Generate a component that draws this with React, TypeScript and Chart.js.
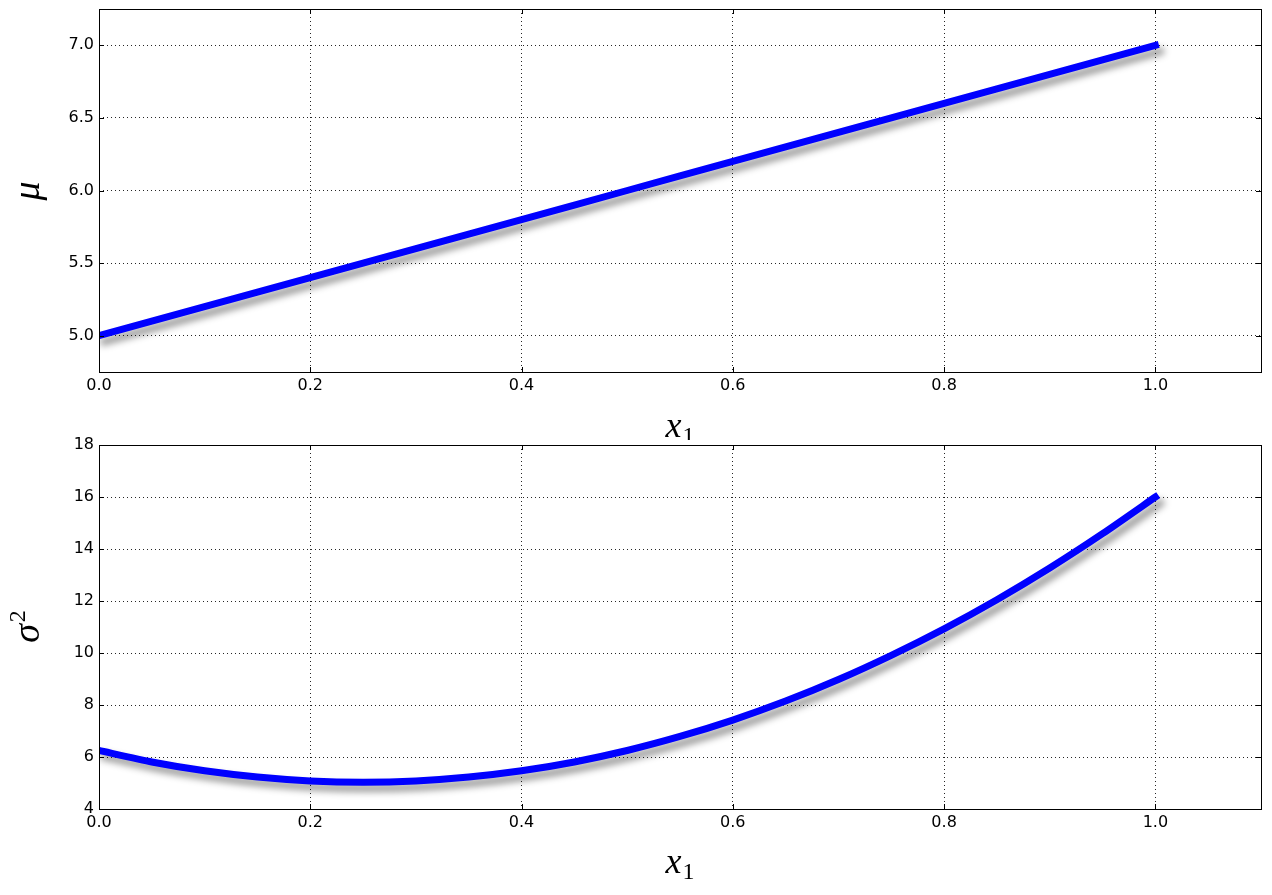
import React, { useEffect, useRef } from "react";
import { Chart, registerables } from "chart.js";

Chart.register(...registerables);

// ---- data ----
const muX = [0, 0.1, 0.2, 0.3, 0.4, 0.5, 0.6, 0.7, 0.8, 0.9, 1.0];
const muY = [5.0, 5.2, 5.4, 5.6, 5.8, 6.0, 6.2, 6.4, 6.6, 6.8, 7.0];

const sigmaX = [0, 0.05, 0.1, 0.15, 0.2, 0.25, 0.3, 0.35, 0.4, 0.45, 0.5, 0.55, 0.6, 0.65, 0.7, 0.75, 0.8, 0.85, 0.9, 0.95, 1.0];
const sigmaY = [6.25, 5.81, 5.47, 5.23, 5.08, 5.03, 5.08, 5.23, 5.47, 5.81, 6.25, 6.79, 7.42, 8.15, 8.98, 9.91, 10.93, 12.05, 13.27, 14.59, 16.0];

const xTicks = [0, 0.2, 0.4, 0.6, 0.8, 1.0];
const muTicks = [5.0, 5.5, 6.0, 6.5, 7.0];
const sigmaTicks = [4, 6, 8, 10, 12, 14, 16, 18];

const W = 1272;
const TOP_H = 440;
const BOT_TOP = 437;
const BOT_H = 895 - BOT_TOP;

function decorPlugin(yMain: string, ySup: string | null, titleOffset: number) {
  return {
    id: "decor",
    beforeDatasetsDraw(chart: any) {
      const ctx = chart.ctx;
      ctx.save();
      ctx.shadowColor = "rgba(0,0,0,0.42)";
      ctx.shadowOffsetX = 5;
      ctx.shadowOffsetY = 6;
      ctx.shadowBlur = 7;
    },
    afterDatasetsDraw(chart: any) {
      const ctx = chart.ctx;
      ctx.restore();
    },
    afterDraw(chart: any) {
      const ctx = chart.ctx;
      const { left, right, top, bottom } = chart.chartArea;
      const xs = chart.scales.x;
      const ys = chart.scales.y;
      ctx.save();
      ctx.strokeStyle = "#000";
      ctx.lineWidth = 1;
      ctx.beginPath();
      const tl = 5;
      ys.ticks.forEach((t: any) => {
        const py = Math.round(ys.getPixelForValue(t.value)) + 0.5;
        ctx.moveTo(left, py);
        ctx.lineTo(left + tl, py);
        ctx.moveTo(right, py);
        ctx.lineTo(right - tl, py);
      });
      xs.ticks.forEach((t: any) => {
        const px = Math.round(xs.getPixelForValue(t.value)) + 0.5;
        ctx.moveTo(px, bottom);
        ctx.lineTo(px, bottom - tl);
        ctx.moveTo(px, top);
        ctx.lineTo(px, top + tl);
      });
      ctx.stroke();
      ctx.strokeRect(Math.round(left) + 0.5, Math.round(top) + 0.5, Math.round(right - left), Math.round(bottom - top));

      // x axis title: x_1
      ctx.fillStyle = "#000";
      ctx.textBaseline = "alphabetic";
      const mainFont = "italic 36px 'Liberation Serif'";
      const subFont = "24px 'Liberation Serif'";
      ctx.font = mainFont;
      const wx = ctx.measureText("x").width;
      ctx.font = subFont;
      const w1 = ctx.measureText("1").width;
      const cx = (left + right) / 2;
      const startX = cx - (wx + w1 + 1) / 2;
      const baseY = bottom + titleOffset;
      ctx.font = mainFont;
      ctx.textAlign = "left";
      ctx.fillText("x", startX, baseY);
      ctx.font = subFont;
      ctx.fillText("1", startX + wx + 1, baseY + 6);

      // y axis title
      const cy = (top + bottom) / 2;
      ctx.save();
      ctx.translate(39, cy);
      ctx.rotate(-Math.PI / 2);
      ctx.font = "italic 38px 'Liberation Serif'";
      const wm = ctx.measureText(yMain).width;
      let ws = 0;
      if (ySup) {
        ctx.font = "24px 'Liberation Serif'";
        ws = ctx.measureText(ySup).width;
      }
      const sx = -(wm + ws + 1) / 2;
      ctx.font = "italic 38px 'Liberation Serif'";
      ctx.fillText(yMain, sx, 0);
      if (ySup) {
        ctx.font = "24px 'Liberation Serif'";
        ctx.fillText(ySup, sx + wm + 2, -14);
      }
      ctx.restore();
      ctx.restore();
    },
  };
}

function makeConfig(
  xData: number[],
  yData: number[],
  yMin: number,
  yMax: number,
  yTicks: number[],
  yFmt: (v: number) => string,
  xAxisHeight: number,
  padTop: number,
  yMain: string,
  ySup: string | null,
  titleOffset: number
): any {
  return {
    type: "line",
    data: {
      datasets: [
        {
          data: xData.map((x, i) => ({ x, y: yData[i] })),
          borderColor: "#0000ff",
          borderWidth: 7,
          borderCapStyle: "square",
          pointRadius: 0,
          tension: 0.2,
          fill: false,
        },
      ],
    },
    options: {
      responsive: false,
      animation: false,
      devicePixelRatio: 1,
      layout: { padding: { top: padTop, right: 11, left: 0, bottom: 0 } },
      plugins: { legend: { display: false }, tooltip: { enabled: false } },
      scales: {
        x: {
          type: "linear",
          min: 0,
          max: 1.1,
          afterBuildTicks: (s: any) => {
            s.ticks = xTicks.map((v) => ({ value: v }));
          },
          afterFit: (s: any) => {
            s.height = xAxisHeight;
          },
          ticks: {
            color: "#000",
            font: { family: "'DejaVu Sans'", size: 16 },
            padding: 4,
            maxRotation: 0,
            autoSkip: false,
            callback: (v: number) => v.toFixed(1),
          },
          grid: { color: "rgba(0,0,0,0.85)", lineWidth: 1, drawTicks: false },
          border: { display: false, dash: [1, 3] },
        },
        y: {
          type: "linear",
          min: yMin,
          max: yMax,
          afterBuildTicks: (s: any) => {
            s.ticks = yTicks.map((v) => ({ value: v }));
          },
          afterFit: (s: any) => {
            s.width = 99;
            s.paddingTop = 0;
            s.paddingBottom = 0;
          },
          ticks: {
            color: "#000",
            font: { family: "'DejaVu Sans'", size: 16 },
            padding: 5,
            autoSkip: false,
            callback: (v: number) => yFmt(v),
          },
          grid: { color: "rgba(0,0,0,0.85)", lineWidth: 1, drawTicks: false },
          border: { display: false, dash: [1, 3] },
        },
      },
    },
    plugins: [decorPlugin(yMain, ySup, titleOffset)],
  };
}

export default function App() {
  const topRef = useRef<HTMLCanvasElement | null>(null);
  const botRef = useRef<HTMLCanvasElement | null>(null);

  useEffect(() => {
    const c1 = new Chart(
      topRef.current as HTMLCanvasElement,
      makeConfig(muX, muY, 4.75, 7.25, muTicks, (v) => v.toFixed(1), TOP_H - 372, 9, "μ", null, 65)
    );
    const c2 = new Chart(
      botRef.current as HTMLCanvasElement,
      makeConfig(sigmaX, sigmaY, 4, 18, sigmaTicks, (v) => String(Math.round(v)), BOT_TOP + BOT_H - 809, 445 - BOT_TOP, "σ", "2", 64)
    );
    return () => {
      c1.destroy();
      c2.destroy();
    };
  }, []);

  return (
    <div style={{ position: "absolute", left: 0, top: 0, width: W, height: 895, background: "#fff" }}>
      <canvas ref={topRef} width={W} height={TOP_H} style={{ position: "absolute", left: 0, top: 0 }} />
      <canvas ref={botRef} width={W} height={BOT_H} style={{ position: "absolute", left: 0, top: BOT_TOP }} />
    </div>
  );
}
